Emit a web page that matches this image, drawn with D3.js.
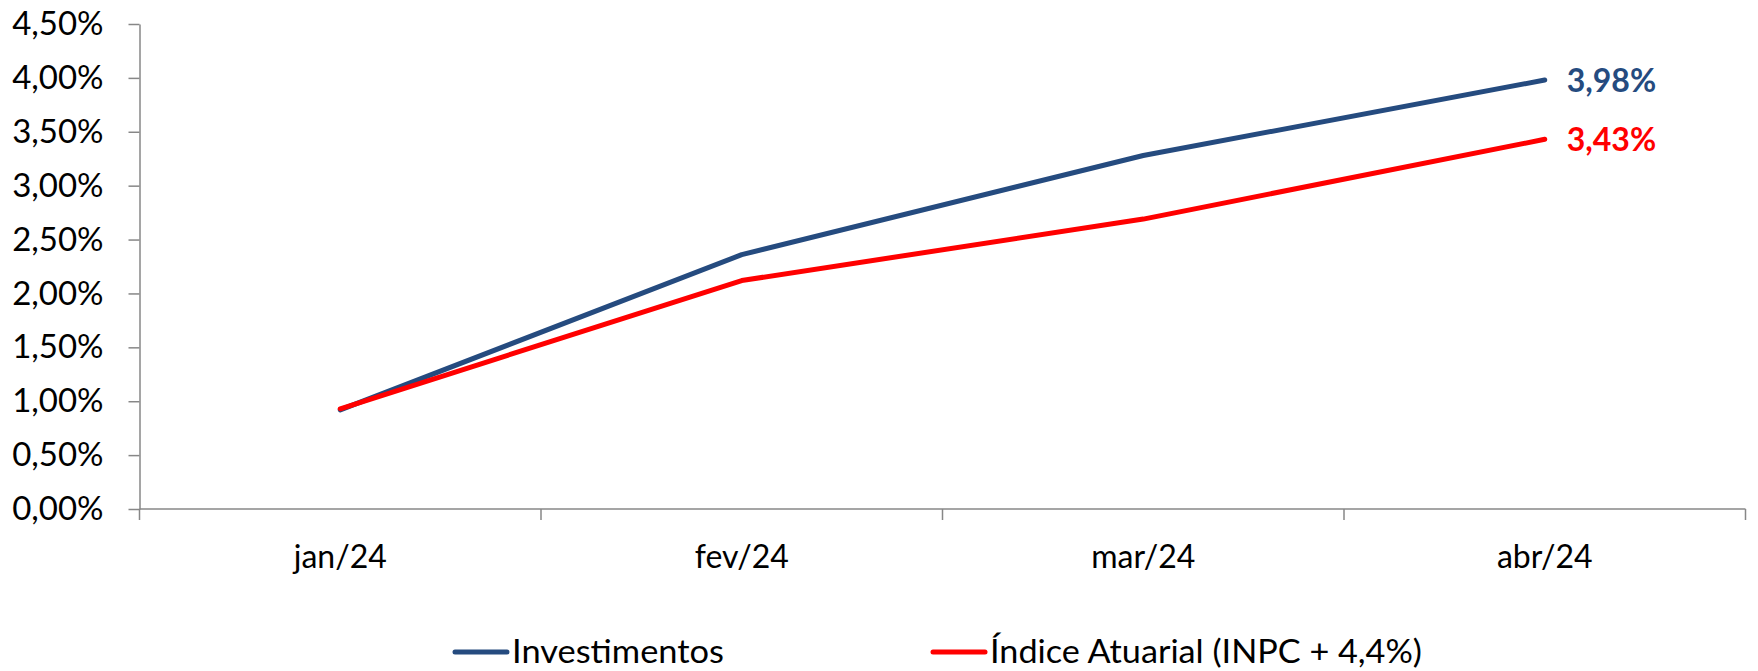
<!DOCTYPE html>
<html><head><meta charset="utf-8">
<script src="https://cdn.jsdelivr.net/npm/d3@7"></script>
<style>body{margin:0;background:#fff}svg{display:block}</style>
</head><body>
<svg id="c" width="1758" height="671"></svg>
<script>
const categories = ["jan/24", "fev/24", "mar/24", "abr/24"];
const investimentos = [0.92, 2.36, 3.28, 3.98];
const indiceAtuarial = [0.93, 2.12, 2.69, 3.43];
const seriesNames = ["Investimentos", "Índice Atuarial (INPC + 4,4%)"];
const seriesColors = ["#254B7F", "#FF0000"];
const yTicks = [0, 0.5, 1, 1.5, 2, 2.5, 3, 3.5, 4, 4.5];

(function () {
const svg = d3.select("#c");
const font = "Lato, 'Open Sans', sans-serif";
const pLeft = 139.5, pRight = 1745.5, pTop = 24, pBottom = 509;

const x = d3.scaleBand().domain(categories).range([pLeft, pRight]).padding(0);
const y = d3.scaleLinear().domain([0, 4.5]).range([pBottom, pTop]);
const fmt = v => d3.format(".2f")(v).replace(".", ",") + "%";

// y axis
const yAxis = svg.append("g").attr("transform", `translate(${pLeft},0)`)
  .call(d3.axisLeft(y).tickValues(yTicks).tickSize(11).tickSizeOuter(0).tickFormat(fmt).tickPadding(6));
yAxis.select(".domain").attr("stroke", "#878787").attr("stroke-width", 1.5);
yAxis.selectAll(".tick line").attr("stroke", "#878787").attr("stroke-width", 1.5);
yAxis.selectAll(".tick text").attr("font-family", font).attr("font-size", 33).attr("fill", "#000").attr("x", -36);

// x axis with ticks at boundaries
const xg = svg.append("g").attr("transform", `translate(0,${pBottom})`);
xg.append("line").attr("x1", pLeft).attr("x2", pRight).attr("y1", 0).attr("y2", 0)
  .attr("stroke", "#878787").attr("stroke-width", 1.5);
const bounds = categories.map(c => x(c)).concat([x(categories[categories.length-1]) + x.bandwidth()]);
xg.selectAll("line.t").data(bounds).enter().append("line").attr("class","t")
  .attr("x1", d => d).attr("x2", d => d).attr("y1", 0).attr("y2", 11)
  .attr("stroke", "#878787").attr("stroke-width", 1.5);
xg.selectAll("text").data(categories).enter().append("text")
  .attr("x", d => x(d) + x.bandwidth()/2).attr("y", 59)
  .attr("text-anchor", "middle").attr("font-family", font).attr("font-size", 32).attr("fill", "#000")
  .text(d => d);

// lines
const line = d3.line().x((d, i) => x(categories[i]) + x.bandwidth()/2).y(d => y(d));
[investimentos, indiceAtuarial].forEach((s, k) => {
  svg.append("path").datum(s).attr("d", line).attr("fill", "none")
    .attr("stroke", seriesColors[k]).attr("stroke-width", 5)
    .attr("stroke-linecap", "round").attr("stroke-linejoin", "round");
});

// end labels
[investimentos, indiceAtuarial].forEach((s, k) => {
  const v = s[s.length-1];
  svg.append("text").attr("x", x(categories[3]) + x.bandwidth()/2 + 22).attr("y", y(v) + 12)
    .attr("font-family", font).attr("font-weight", "bold").attr("font-size", 32)
    .attr("fill", seriesColors[k]).text(fmt(v));
});

// legend
const leg = [
  {x: 455, w: 212},
  {x: 933, w: 432}
];
seriesNames.forEach((n, k) => {
  svg.append("line").attr("x1", leg[k].x).attr("x2", leg[k].x + 52).attr("y1", 652).attr("y2", 652)
    .attr("stroke", seriesColors[k]).attr("stroke-width", 5).attr("stroke-linecap", "round");
  svg.append("text").attr("x", leg[k].x + 57).attr("y", 663)
    .attr("font-family", font).attr("font-size", 32).attr("fill", "#000")
    .attr("textLength", leg[k].w).attr("lengthAdjust", "spacingAndGlyphs").text(n);
});
})();
</script>
</body></html>
